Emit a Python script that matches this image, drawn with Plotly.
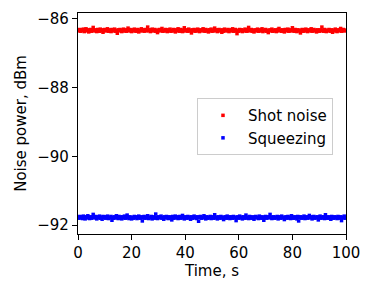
import numpy as np
import plotly.graph_objects as go

shot_noise = [
-86.33,-86.35,-86.31,-86.36,-86.32,-86.34,-86.30,-86.37,-86.33,-86.29,
-86.35,-86.32,-86.38,-86.34,-86.31,-86.36,-86.33,-86.25,-86.35,-86.32,
-86.34,-86.37,-86.31,-86.33,-86.36,-86.30,-86.35,-86.32,-86.39,-86.34,
-86.31,-86.35,-86.33,-86.29,-86.36,-86.32,-86.34,-86.37,-86.31,-86.35,
-86.33,-86.30,-86.36,-86.34,-86.42,-86.32,-86.35,-86.31,-86.33,-86.37,
-86.34,-86.30,-86.35,-86.32,-86.36,-86.33,-86.27,-86.35,-86.31,-86.34,
-86.37,-86.32,-86.35,-86.30,-86.33,-86.36,-86.34,-86.31,-86.38,-86.33,
-86.35,-86.29,-86.34,-86.32,-86.36,-86.33,-86.31,-86.35,-86.24,-86.34,
-86.32,-86.37,-86.33,-86.30,-86.35,-86.34,-86.31,-86.36,-86.33,-86.40,
-86.34,-86.31,-86.35,-86.32,-86.28,-86.36,-86.33,-86.35,-86.31,-86.34,
-86.37,-86.32,-86.34,-86.30,-86.36,-86.33,-86.35,-86.31,-86.34,-86.38,
-86.32,-86.35,-86.29,-86.34,-86.36,-86.31,-86.33,-86.37,-86.34,-86.26,
-86.35,-86.32,-86.34,-86.36,-86.30,-86.33,-86.35,-86.41,-86.32,-86.34,
-86.31,-86.36,-86.33,-86.35,-86.30,-86.34,-86.37,-86.32,-86.35,-86.33,
-86.29,-86.34,-86.36,-86.31,-86.35,-86.33,-86.38,-86.32,-86.34,-86.30,
-86.36,-86.33,-86.35,-86.27,-86.34,-86.32,-86.37,-86.33,-86.31,-86.35,
-86.34,-86.39,-86.32,-86.36,-86.30,-86.34,-86.33,-86.35,-86.31,-86.37,
-86.33,-86.35,-86.32,-86.29,-86.36,-86.34,-86.31,-86.35,-86.43,-86.33,
-86.36,-86.31,-86.34,-86.32,-86.37,-86.33,-86.35,-86.30,-86.34,-86.36,
-86.32,-86.25,-86.35,-86.33,-86.31,-86.36,-86.34,-86.38,-86.32,-86.35,
-86.33,-86.30,-86.36,-86.34,-86.32,-86.35,-86.29,-86.37,-86.33,-86.34,
-86.31,-86.36,-86.33,-86.40,-86.35,-86.32,-86.34,-86.30,-86.36,-86.33,
-86.35,-86.32,-86.37,-86.34,-86.31,-86.28,-86.35,-86.33,-86.36,-86.32,
-86.34,-86.38,-86.31,-86.35,-86.33,-86.30,-86.36,-86.34,-86.32,-86.35,
-86.26,-86.33,-86.36,-86.31,-86.34,-86.37,-86.32,-86.35,-86.33,-86.41,
-86.34,-86.31,-86.36,-86.33,-86.35,-86.30,-86.34,-86.37,-86.32,-86.35,
-86.33,-86.29,-86.36,-86.34,-86.31,-86.35,-86.33,-86.38,-86.32,-86.34,
-86.36,-86.32,-86.35,-86.24,-86.33,-86.36,-86.31,-86.34,-86.37,-86.33,
-86.35,-86.31,-86.34,-86.36,-86.32,-86.39,-86.33,-86.35,-86.30,-86.34,
-86.37,-86.32,-86.35,-86.33,-86.28,-86.36,-86.34,-86.31,-86.35,-86.33,
-86.34]

squeezing = [
-91.77,-91.80,-91.75,-91.79,-91.76,-91.81,-91.74,-91.78,-91.82,-91.76,
-91.79,-91.73,-91.78,-91.81,-91.76,-91.80,-91.77,-91.69,-91.79,-91.75,
-91.78,-91.82,-91.76,-91.79,-91.74,-91.80,-91.77,-91.83,-91.75,-91.78,
-91.76,-91.80,-91.78,-91.74,-91.81,-91.77,-91.79,-91.75,-91.86,-91.78,
-91.80,-91.76,-91.79,-91.73,-91.78,-91.81,-91.75,-91.79,-91.77,-91.82,
-91.76,-91.79,-91.74,-91.80,-91.78,-91.71,-91.77,-91.81,-91.76,-91.79,
-91.82,-91.77,-91.80,-91.75,-91.78,-91.76,-91.81,-91.79,-91.74,-91.78,
-91.80,-91.76,-91.88,-91.78,-91.75,-91.80,-91.77,-91.79,-91.73,-91.81,
-91.77,-91.79,-91.75,-91.82,-91.78,-91.76,-91.80,-91.68,-91.78,-91.81,
-91.76,-91.79,-91.77,-91.74,-91.80,-91.78,-91.83,-91.76,-91.79,-91.75,
-91.78,-91.81,-91.76,-91.79,-91.77,-91.85,-91.75,-91.80,-91.78,-91.74,
-91.79,-91.76,-91.81,-91.78,-91.75,-91.80,-91.77,-91.72,-91.79,-91.82,
-91.76,-91.78,-91.80,-91.75,-91.79,-91.77,-91.83,-91.76,-91.80,-91.78,
-91.74,-91.79,-91.77,-91.81,-91.76,-91.89,-91.78,-91.75,-91.80,-91.77,
-91.79,-91.73,-91.78,-91.82,-91.76,-91.80,-91.77,-91.79,-91.75,-91.81,
-91.78,-91.76,-91.80,-91.70,-91.79,-91.77,-91.82,-91.76,-91.78,-91.80,
-91.75,-91.79,-91.77,-91.84,-91.78,-91.76,-91.80,-91.74,-91.79,-91.77,
-91.81,-91.76,-91.78,-91.80,-91.75,-91.79,-91.77,-91.87,-91.78,-91.76,
-91.80,-91.74,-91.79,-91.77,-91.82,-91.76,-91.78,-91.80,-91.71,-91.79,
-91.77,-91.81,-91.75,-91.78,-91.80,-91.76,-91.79,-91.83,-91.77,-91.75,
-91.79,-91.77,-91.81,-91.74,-91.78,-91.80,-91.76,-91.79,-91.86,-91.77,
-91.75,-91.80,-91.78,-91.76,-91.79,-91.69,-91.77,-91.81,-91.78,-91.76,
-91.80,-91.77,-91.79,-91.75,-91.82,-91.78,-91.76,-91.80,-91.74,-91.79,
-91.77,-91.84,-91.78,-91.76,-91.80,-91.75,-91.79,-91.77,-91.81,-91.73,
-91.78,-91.80,-91.76,-91.79,-91.77,-91.82,-91.75,-91.88,-91.78,-91.76,
-91.80,-91.77,-91.79,-91.74,-91.81,-91.78,-91.76,-91.80,-91.77,-91.72,
-91.79,-91.76,-91.82,-91.78,-91.75,-91.80,-91.77,-91.79,-91.76,-91.85,
-91.78,-91.74,-91.80,-91.77,-91.79,-91.76,-91.81,-91.70,-91.78,-91.80,
-91.76,-91.79,-91.77,-91.83,-91.75,-91.78,-91.80,-91.76,-91.79,-91.77,
-91.81,-91.75,-91.78,-91.80,-91.76,-91.87,-91.77,-91.79,-91.74,-91.80,
-91.78]

time_s = np.linspace(0, 100, len(shot_noise))

x_ticks = [0, 20, 40, 60, 80, 100]
y_ticks = [-92, -90, -88, -86]
y_tick_text = ["\u221292", "\u221290", "\u221288", "\u221286"]

FONT = "DejaVu Sans"

fig = go.Figure()
fig.add_trace(go.Scatter(x=time_s, y=shot_noise, mode="markers", name="Shot noise",
                         marker=dict(symbol="square", size=3.5, color="#ff0000", line=dict(width=0))))
fig.add_trace(go.Scatter(x=time_s, y=squeezing, mode="markers", name="Squeezing",
                         marker=dict(symbol="square", size=3.5, color="#0000ff", line=dict(width=0))))

axis_common = dict(showline=True, mirror=True, linecolor="black", linewidth=1.2,
                   ticks="outside", ticklen=5, tickwidth=1.2, tickcolor="black",
                   showgrid=False, zeroline=False, automargin=False,
                   tickfont=dict(family=FONT, size=15, color="black"))

fig.update_xaxes(range=[0, 100], tickvals=x_ticks,
                 title=dict(text="Time, s", font=dict(family=FONT, size=15, color="black"), standoff=4),
                 **axis_common)
fig.update_yaxes(range=[-92.26, -85.83], tickvals=y_ticks, ticktext=y_tick_text,
                 title=dict(text="Noise power, dBm", font=dict(family=FONT, size=15, color="black"), standoff=6),
                 **axis_common)

# page body has an 8px default margin, so the figure is offset by 8px
fig.update_layout(
    width=366, height=288,
    margin=dict(l=70, r=28, t=5, b=62),
    paper_bgcolor="white", plot_bgcolor="white",
    font=dict(family=FONT, size=15, color="black"),
    legend=dict(x=0.444, y=0.615, xanchor="left", yanchor="top",
                bgcolor="white", bordercolor="#cccccc", borderwidth=1,
                font=dict(family=FONT, size=15, color="black"),
                itemwidth=40, tracegroupgap=2),
    showlegend=True,
)

fig.write_html("out.html")
